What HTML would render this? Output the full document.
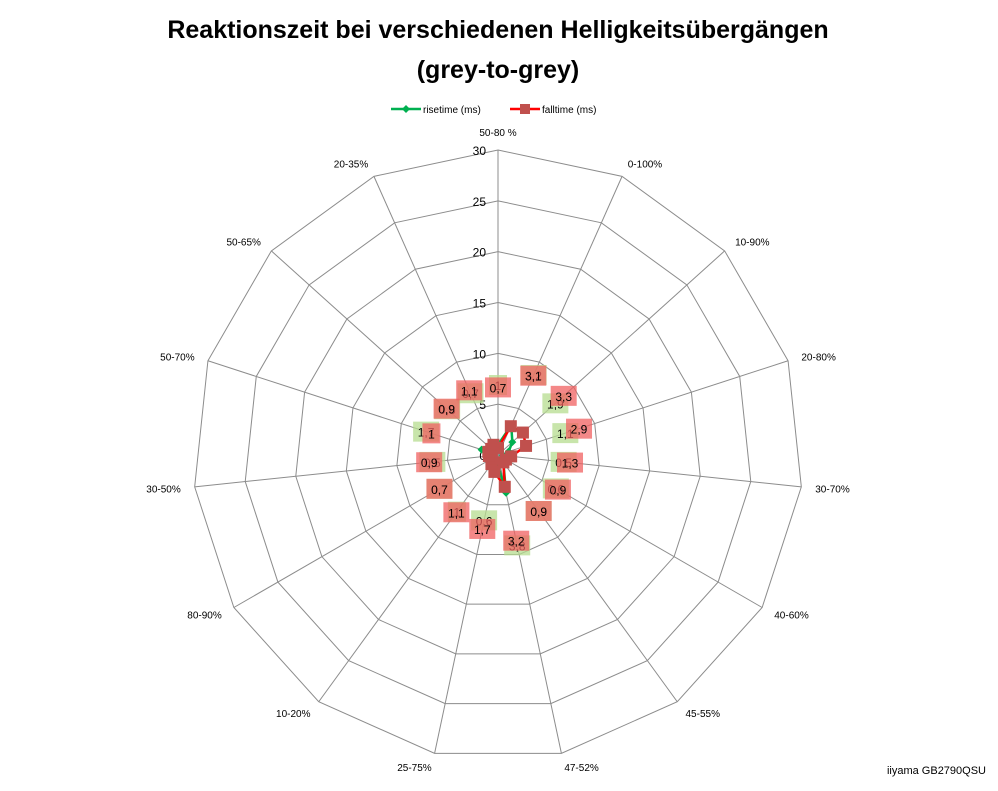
<!DOCTYPE html>
<html><head><meta charset="utf-8"><style>
body{margin:0;background:#fff;width:998px;height:786px;overflow:hidden;font-family:"Liberation Sans",sans-serif}
</style></head><body>
<svg width="998" height="786" xmlns="http://www.w3.org/2000/svg" font-family="Liberation Sans, sans-serif">
<text x="498" y="38" text-anchor="middle" font-size="25" font-weight="bold">Reaktionszeit bei verschiedenen Helligkeitsübergängen</text>
<text x="498" y="78" text-anchor="middle" font-size="25" font-weight="bold">(grey-to-grey)</text>
<g font-size="10">
<g><line x1="391" y1="109" x2="421" y2="109" stroke="#00b050" stroke-width="2.5"/><path d="M406 105 L410 109 L406 113 L402 109Z" fill="#00b050"/><text x="423" y="113">risetime (ms)</text></g>
<g><line x1="510" y1="109" x2="540" y2="109" stroke="#ff0000" stroke-width="2.5"/><rect x="520" y="104" width="10" height="10" fill="#c0504d"/><text x="542" y="113">falltime (ms)</text></g>
</g>
<g id="grid"></g>
<g id="ticks" font-size="12"></g>
<g id="cats" font-size="10"></g>
<g id="series"></g>
<g id="labels" font-size="12"></g>
<text x="986" y="774" text-anchor="end" font-size="11">iiyama GB2790QSU</text>
</svg>
<script>
const categories=["50-80 %","0-100%","10-90%","20-80%","30-70%","40-60%","45-55%","47-52%","25-75%","10-20%","80-90%","30-50%","50-70%","50-65%","20-35%"];
const rise=[1,3.2,1.9,1.1,0.5,0.6,0.9,3.8,0.6,1,0.7,0.5,1.7,0.8,0.7];
const fall=[0.7,3.1,3.3,2.9,1.3,0.9,0.9,3.2,1.7,1.1,0.7,0.9,1,0.9,1.1];
const tickLabels=[0,5,10,15,20,25,30];
const cx=498,cy=455,R=305,maxV=30;
const NS="http://www.w3.org/2000/svg";
const n=categories.length;
function ang(i){return -Math.PI/2+i*2*Math.PI/n;}
function pt(i,v){const a=ang(i),r=v/maxV*R;return [cx+r*Math.cos(a),cy+r*Math.sin(a)];}
function mk(tag,attrs,parent){const e=document.createElementNS(NS,tag);for(const k in attrs)e.setAttribute(k,attrs[k]);parent.appendChild(e);return e;}
const grid=document.getElementById('grid');
tickLabels.slice(1).forEach(v=>{
  const p=[];for(let i=0;i<n;i++)p.push(pt(i,v).join(','));
  const e=mk('polygon',{points:p.join(' '),fill:'none',stroke:'#8c8c8c','stroke-width':1},grid);
  
  
});
for(let i=0;i<n;i++){const [x,y]=pt(i,maxV);const e=mk('line',{x1:cx,y1:cy,x2:x,y2:y,stroke:'#8c8c8c'},grid);
  
  }
const ticks=document.getElementById('ticks');
tickLabels.forEach(t=>{const y=cy-t/maxV*R;const e=mk('text',{x:cx-12,y:y+5,'text-anchor':'end'},ticks);e.textContent=t;
  
  });
const cats=document.getElementById('cats');
categories.forEach((c,i)=>{const a=ang(i);const r=R+14;const x=cx+r*Math.cos(a),y=cy+r*Math.sin(a)+4;
  const cs=Math.cos(a);const anchor=Math.abs(cs)<0.15?'middle':(cs>0?'start':'end');
  let yy=y; if(i===0)yy=y-4;
  const e=mk('text',{x:x,y:yy,'text-anchor':anchor},cats);e.textContent=c;
  
  });
const ser=document.getElementById('series');
function series(vals,color,name,marker){
  const g=mk('g',{},ser);
  
  
  const p=vals.map((v,i)=>pt(i,v).join(','));
  mk('polygon',{points:p.join(' '),fill:'none',stroke:color,'stroke-width':2.5},g);
  vals.forEach((v,i)=>{const [x,y]=pt(i,v);let e;
    if(marker==='sq')e=mk('rect',{x:x-6,y:y-6,width:12,height:12,fill:'#c0504d'},g);
    else e=mk('path',{d:`M${x} ${y-4}L${x+4} ${y}L${x} ${y+4}L${x-4} ${y}Z`,fill:'#00b050'},g);
    
    });
}
series(rise,'#00b050','risetime-series','dia');
series(fall,'#ff0000','falltime-series','sq');
const lab=document.getElementById('labels');
function labels(vals,fill,name){
  vals.forEach((v,i)=>{const a=ang(i);const r=62+v*8;const x=cx+r*Math.cos(a),y=cy+r*Math.sin(a);
    const s=(v.toString().replace('.',','));
    const w=s.length>1?26:18;
    const b=mk('rect',{x:x-w/2,y:y-10,width:w,height:20,fill:fill,opacity:0.75},lab);
    
    
    const t=mk('text',{x:x,y:y+5,'text-anchor':'middle'},lab);t.textContent=s;
    
    });
}
labels(rise,'#b5dc8f','risetime');
labels(fall,'#f06060','falltime');
</script>
</body></html>
